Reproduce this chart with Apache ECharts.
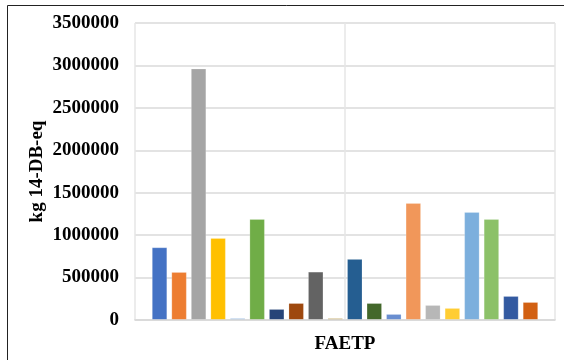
<!DOCTYPE html>
<html>
<head>
<meta charset="utf-8">
<style>
  html, body { margin: 0; padding: 0; background: #ffffff; }
  #chart { width: 564px; height: 360px; }
</style>
<script src="https://cdn.jsdelivr.net/npm/echarts@6/dist/echarts.min.js"></script>
</head>
<body>
<div id="chart"></div>
<script>
// Impact category shown on the x axis
const categories = ['FAETP'];

// Freshwater aquatic ecotoxicity of each scenario, kg 1,4-DB-eq
const values = [
  857000, 566000, 2964000, 967000, 20000,
  1191000, 130000, 200000, 570000, 8000,
  720000, 200000, 71000, 1380000, 177000,
  142000, 1274000, 1191000, 283000, 212000
];

// Y axis ticks
const yTicks = [0, 500000, 1000000, 1500000, 2000000, 2500000, 3000000, 3500000];

const palette = [
  '#4472C4', '#ED7D31', '#A5A5A5', '#FFC000', '#8FB4DE',
  '#70AD47', '#264478', '#9E480E', '#636363', '#BFA25A',
  '#255E91', '#43682B', '#698ED0', '#F1975A', '#B7B7B7',
  '#FFCD33', '#7CAFDD', '#8CC168', '#335AA1', '#D26012'
];

const font = '"Liberation Serif", "Times New Roman", serif';

const series = values.map((v, i) => ({
  type: 'bar',
  name: 'S' + (i + 1),
  data: [v],
  xAxisIndex: 0,
  barGap: '26%',
  barCategoryGap: '8%',
  barMinHeight: 2,
  itemStyle: {
    color: palette[i],
    borderColor: 'rgba(255,255,255,0.2)',
    borderWidth: 1
  },
  z: 2
}));

const chart = echarts.init(document.getElementById('chart'), null, { renderer: 'canvas' });
chart.setOption({
  animation: false,
  backgroundColor: '#ffffff',
  grid: { left: 135, right: 9, top: 23, bottom: 40, containLabel: false },
  xAxis: [{
    type: 'category',
    data: categories,
    z: 3,
    axisLine: { show: true, lineStyle: { color: 'rgba(210,210,210,0.5)', width: 2 } },
    axisTick: { show: false },
    axisLabel: {
      show: true,
      margin: 15,
      fontFamily: font,
      fontWeight: 'bold',
      fontSize: 19,
      color: '#000'
    },
    splitLine: { show: false }
  }, {
    // vertical gridlines: plot edges and the centre line
    type: 'category',
    data: ['', ''],
    position: 'bottom',
    axisLine: { show: false },
    axisTick: { show: false },
    axisLabel: { show: false },
    splitLine: { show: true, lineStyle: { color: '#e6e6e6', width: 1.5 } }
  }],
  yAxis: {
    type: 'value',
    min: yTicks[0],
    max: yTicks[yTicks.length - 1],
    interval: yTicks[1] - yTicks[0],
    name: 'kg 14-DB-eq',
    nameLocation: 'middle',
    nameGap: 88,
    nameMoveOverlap: false,
    nameTextStyle: { fontFamily: font, fontWeight: 'bold', fontSize: 19, color: '#000' },
    axisLine: { show: false },
    axisTick: { show: false },
    axisLabel: {
      margin: 16,
      fontFamily: font,
      fontWeight: 'bold',
      fontSize: 19,
      color: '#000',
      formatter: v => String(v)
    },
    splitLine: { show: true, lineStyle: { color: '#dadada', width: 1.5 } }
  },
  graphic: [{
    type: 'rect',
    shape: { x: 7.5, y: 5.5, width: 700, height: 500 },
    style: { fill: 'none', stroke: '#222', lineWidth: 1 },
    silent: true,
    z: 10
  }],
  series: series
});
</script>
</body>
</html>
